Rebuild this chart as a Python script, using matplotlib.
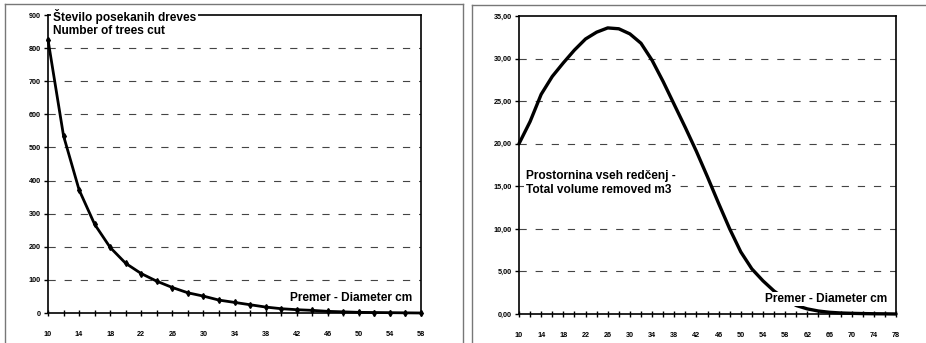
import matplotlib
matplotlib.use("Agg")
import matplotlib.pyplot as plt
from matplotlib.lines import Line2D

plt.rcParams['font.family'] = ['Liberation Sans', 'DejaVu Sans']

# ---- data ----
diam_left = [10, 12, 14, 16, 18, 20, 22, 24, 26, 28, 30, 32, 34, 36, 38, 40,
             42, 44, 46, 48, 50, 52, 54, 56, 58]
trees_cut = [825, 535, 372, 268, 198, 150, 119, 96, 77, 61, 51, 39, 32, 25, 18, 13,
             10, 8, 5, 3.5, 2, 1.5, 1, 0.5, 0]
left_xticklabels = ['10', '14', '18', '22', '26', '30', '34', '38', '42', '46', '50', '54', '58']
left_yticks = [0, 100, 200, 300, 400, 500, 600, 700, 800, 900]

diam_right = [10, 12, 14, 16, 18, 20, 22, 24, 26, 28, 30, 32, 34, 36, 38, 40, 42, 44,
              46, 48, 50, 52, 54, 56, 58, 60, 62, 64, 66, 68, 70, 72, 74, 76, 78]
volume = [20.0, 22.6, 25.8, 27.9, 29.5, 31.0, 32.3, 33.1, 33.6, 33.5, 32.9, 31.8,
          29.8, 27.3, 24.6, 21.9, 19.1, 16.1, 13.0, 10.0, 7.3, 5.3, 3.9, 2.7, 1.8,
          1.0, 0.6, 0.35, 0.2, 0.12, 0.08, 0.05, 0.03, 0.02, 0.0]
right_xticklabels = ['10', '14', '18', '22', '26', '30', '34', '38', '42', '46', '50',
                     '54', '58', '62', '66', '70', '74', '78']
right_yticks = [0, 5, 10, 15, 20, 25, 30, 35]

title_left = "Število posekanih dreves\nNumber of trees cut"
title_right = "Prostornina vseh redčenj -\nTotal volume removed m3"
xlabel_text = "Premer - Diameter cm"

W, H = 926, 343
fig = plt.figure(figsize=(W / 100, H / 100), dpi=100)


def fx(px):
    return px / W


def fy(py):
    return 1 - py / H


ax1 = fig.add_axes([fx(48), fy(313), fx(421) - fx(48), fy(15) - fy(313)])
ax2 = fig.add_axes([fx(519), fy(314), fx(896) - fx(519), fy(16) - fy(314)])

grid_kw = dict(color='#444444', lw=0.8, linestyle=(0, (6.5, 8)), zorder=1)
tick_font = dict(fontsize=5.2, fontweight='bold')
label_fs = 8.6

# ---- left ----
for v in left_yticks[1:-1]:
    ax1.axhline(v, **grid_kw)
ax1.plot(diam_left, trees_cut, color='black', lw=2, marker='d', ms=3, zorder=3,
         clip_on=False)
ax1.set_xlim(diam_left[0], diam_left[-1])
ax1.set_ylim(0, 900)
ax1.set_yticks(left_yticks)
ax1.set_yticklabels([str(v) for v in left_yticks], **tick_font)
ax1.set_xticks(diam_left[::2])
ax1.set_xticklabels(left_xticklabels, **tick_font)
ax1.set_xticks(diam_left, minor=True)
ax1.tick_params(axis='x', which='both', direction='inout', length=4, width=1, pad=11)
ax1.tick_params(axis='y', direction='out', length=3, width=1, pad=2)

ax1.text(fx(53), fy(23), title_left, transform=fig.transFigure, ha='left', va='center',
         fontsize=label_fs, fontweight='bold', linespacing=1.2, zorder=5,
         bbox=dict(facecolor='white', edgecolor='none', pad=1.5))
ax1.text(fx(412), fy(298), xlabel_text, transform=fig.transFigure, ha='right', va='center',
         fontsize=label_fs, fontweight='bold', zorder=5,
         bbox=dict(facecolor='white', edgecolor='none', pad=1))

# ---- right ----
for v in right_yticks[1:-1]:
    ax2.axhline(v, **grid_kw)
ax2.plot(diam_right, volume, color='black', lw=2.4, zorder=3, clip_on=False,
         solid_joinstyle='round', solid_capstyle='round')
ax2.set_xlim(diam_right[0], diam_right[-1])
ax2.set_ylim(0, 35)
ax2.set_yticks(right_yticks)
ax2.set_yticklabels([f"{v:.2f}".replace('.', ',') for v in right_yticks], **tick_font)
ax2.set_xticks(diam_right[::2])
ax2.set_xticklabels(right_xticklabels, **tick_font)
ax2.set_xticks(diam_right, minor=True)
ax2.tick_params(axis='x', which='both', direction='inout', length=4, width=1, pad=11)
ax2.tick_params(axis='y', direction='out', length=3, width=1, pad=2)

ax2.text(fx(526), fy(183), title_right, transform=fig.transFigure, ha='left', va='center',
         fontsize=label_fs, fontweight='bold', linespacing=1.25, zorder=5,
         bbox=dict(facecolor='white', edgecolor='none', pad=1.5))
ax2.text(fx(887), fy(299), xlabel_text, transform=fig.transFigure, ha='right', va='center',
         fontsize=label_fs, fontweight='bold', zorder=5,
         bbox=dict(facecolor='white', edgecolor='none', pad=1))

for ax in (ax1, ax2):
    for s in ax.spines.values():
        s.set_color('black')
        s.set_linewidth(1.2)

# ---- panel frames ----
frame_kw = dict(color='#777777', lw=1.0, transform=fig.transFigure)
fig.add_artist(Line2D([fx(5), fx(463)], [fy(4), fy(4)], **frame_kw))
fig.add_artist(Line2D([fx(5), fx(5)], [fy(4), 0], **frame_kw))
fig.add_artist(Line2D([fx(463), fx(463)], [fy(4), 0], **frame_kw))
fig.add_artist(Line2D([fx(472), 1], [fy(5), fy(5)], **frame_kw))
fig.add_artist(Line2D([fx(472), fx(472)], [fy(5), 0], **frame_kw))

fig.savefig("out.png", dpi=100, facecolor='white')
